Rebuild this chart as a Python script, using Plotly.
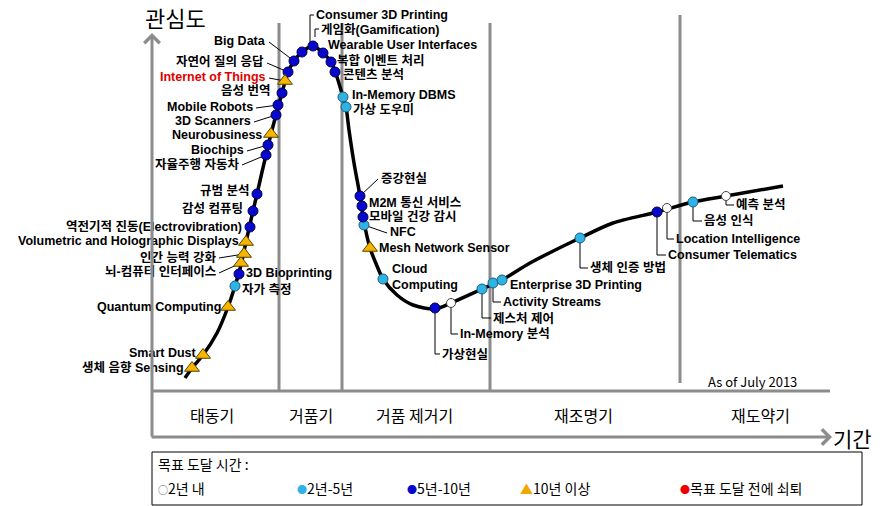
import plotly.graph_objects as go

# ---------------- data (time = x, visibility = y) ----------------
tech_names = [
    "생체 음향 Sensing", "Smart Dust", "Quantum Computing", "자가 측정", "3D Bioprinting",
    "뇌-컴퓨터 인터페이스", "인간 능력 강화", "Volumetric and Holographic Displays",
    "역전기적 진동(Electrovibration)", "감성 컴퓨팅", "규범 분석", "자율주행 자동차", "Biochips",
    "Neurobusiness", "3D Scanners", "Mobile Robots", "음성 번역", "Internet of Things",
    "자연어 질의 응답", "Big Data", "Consumer 3D Printing", "게임화(Gamification)",
    "Wearable User Interfaces", "복합 이벤트 처리", "콘텐츠 분석", "In-Memory DBMS", "가상 도우미",
    "증강현실", "M2M 통신 서비스", "모바일 건강 감시", "NFC", "Mesh Network Sensor",
    "Cloud Computing", "가상현실", "In-Memory 분석", "제스처 제어", "Activity Streams",
    "Enterprise 3D Printing", "생체 인증 방법", "Consumer Telematics", "Location Intelligence",
    "음성 인식", "예측 분석",
]
tech_time = [40, 51, 76, 83, 87, 89, 92, 94, 98, 101, 105, 114, 116, 119, 124, 126, 130, 133,
             136, 142, 150, 161, 171, 179, 183, 191, 194, 208, 210, 211, 212, 218, 231, 283,
             299, 330, 341, 350, 428, 505, 515, 541, 574]
tech_visibility = [69, 82, 130, 151, 163, 174, 183, 195, 210, 226, 243, 282, 292, 303, 322, 332,
                   344, 356, 365, 376, 385, 391, 384, 375, 365, 340, 330, 241, 231, 220, 212, 189,
                   158, 129, 134, 148, 154, 157, 199, 225, 229, 235, 241]
# plateau category: 0 = <2y, 1 = 2-5y, 2 = 5-10y, 3 = >10y
tech_plateau = [3, 3, 3, 1, 2, 3, 3, 3, 2, 2, 2, 2, 2, 3, 2, 2, 2, 3, 2, 2, 2, 2, 2, 2, 2, 1, 1,
                2, 2, 2, 1, 3, 1, 2, 0, 1, 1, 1, 1, 2, 0, 1, 0]

curve_time = [33, 40, 51, 65, 76, 83, 89, 94, 101, 105, 110, 114, 119, 124, 130, 136, 142, 150,
              161, 171, 179, 184, 191, 194, 197, 202, 208, 212, 218, 225, 231, 245, 261, 283,
              299, 330, 350, 378, 428, 461, 505, 541, 574, 631]
curve_visibility = [59, 69, 82, 104, 130, 151, 172, 195, 226, 243, 265, 282, 303, 322, 344, 365,
                    376, 385, 391, 384, 375, 363, 340, 330, 307, 274, 241, 215, 189, 171, 158, 142,
                    132, 128, 134, 148, 157, 174, 199, 214, 225, 235, 241, 251]

phase_names = ["태동기", "거품기", "거품 제거기", "재조명기", "재도약기"]
legend_title = "목표 도달 시간 :"
plateau_labels = ["2년 내", "2년-5년", "5년-10년", "10년 이상", "목표 도달 전에 쇠퇴"]

# ---------------- layout helpers (pixel -> data) ----------------
OX, OY = 152, 437
def X(px): return px - OX
def Y(py): return OY - py

FONT = "Noto Sans CJK KR"
LABEL_FONT = "Liberation Sans, Noto Sans CJK KR"
TXT = 12.5

# label placement: side, label x (px), label y (px), leader type
label_layout = {
    "생체 음향 Sensing": ("L", 185, 367, None),
    "Smart Dust": ("L", 198, 353, None),
    "Quantum Computing": ("L", 222, 307, None),
    "자가 측정": ("R", 241, 289, None),
    "3D Bioprinting": ("R", 245, 273, None),
    "뇌-컴퓨터 인터페이스": ("L", 217, 272, "diag"),
    "인간 능력 강화": ("L", 217, 257, "diag"),
    "Volumetric and Holographic Displays": ("L", 240, 241, None),
    "역전기적 진동(Electrovibration)": ("L", 243, 226, None),
    "감성 컴퓨팅": ("L", 244, 209, None),
    "규범 분석": ("L", 250, 191, None),
    "자율주행 자동차": ("L", 240, 164, "diag"),
    "Biochips": ("L", 245, 150, "diag"),
    "Neurobusiness": ("L", 263, 135, None),
    "3D Scanners": ("L", 252, 121, "diag"),
    "Mobile Robots": ("L", 254, 107, "diag"),
    "음성 번역": ("L", 271, 91, None),
    "Internet of Things": ("L", 267, 77, "diag"),
    "자연어 질의 응답": ("L", 265, 62, "diag"),
    "Big Data": ("L", 267, 41, "diag"),
    "Consumer 3D Printing": ("R", 315, 15, ("bracket", 310, 44)),
    "게임화(Gamification)": ("R", 320, 29, ("bracket", 315, 37)),
    "Wearable User Interfaces": ("R", 327, 45, None),
    "복합 이벤트 처리": ("R", 336, 60, None),
    "콘텐츠 분석": ("R", 342, 75, None),
    "In-Memory DBMS": ("R", 351, 95, None),
    "가상 도우미": ("R", 352, 109, None),
    "증강현실": ("R", 380, 178, "diag"),
    "M2M 통신 서비스": ("R", 368, 203, None),
    "모바일 건강 감시": ("R", 368, 217, None),
    "NFC": ("R", 389, 232, "diag"),
    "Mesh Network Sensor": ("R", 378, 248, None),
    "Cloud Computing": ("R", 391, 277, None),
    "가상현실": ("R", 441, 354, "elbow"),
    "In-Memory 분석": ("R", 459, 334, "elbow"),
    "제스처 제어": ("R", 492, 318, "elbow"),
    "Activity Streams": ("R", 502, 302, "elbow"),
    "Enterprise 3D Printing": ("R", 509, 285, None),
    "생체 인증 방법": ("R", 589, 268, "elbow"),
    "Consumer Telematics": ("R", 667, 255, "elbow"),
    "Location Intelligence": ("R", 675, 239, "elbow"),
    "음성 인식": ("R", 703, 221, "elbow"),
    "예측 분석": ("R", 735, 205, "elbow"),
}

fig = go.Figure()

# hype curve
fig.add_trace(go.Scatter(x=curve_time, y=curve_visibility, mode="lines",
                         line=dict(color="black", width=3.5, shape="spline", smoothing=0.8),
                         hoverinfo="skip", showlegend=False))

# leader lines
lx_all, ly_all = [], []
for name, t, v in zip(tech_names, tech_time, tech_visibility):
    side, lx, ly, leader = label_layout[name]
    if leader is None:
        continue
    if leader == "diag":
        sx = lx + 2 if side == "L" else lx - 2
        lx_all += [X(sx), t, None]
        ly_all += [Y(ly + 1), v, None]
    elif leader == "elbow":
        lx_all += [t, t, X(lx - 1), None]
        ly_all += [v, Y(ly), Y(ly), None]
    else:
        _, bx, by = leader
        lx_all += [X(lx - 1), X(bx), X(bx), None]
        ly_all += [Y(ly), Y(ly), Y(by), None]
fig.add_trace(go.Scatter(x=lx_all, y=ly_all, mode="lines", line=dict(color="black", width=1),
                         hoverinfo="skip", showlegend=False))

# markers per plateau category
styles = [
    dict(symbol="circle", size=9, color="white", line=dict(color="#444444", width=1)),
    dict(symbol="circle", size=10, color="#2fb2e4", line=dict(color="#1b5f80", width=1)),
    dict(symbol="circle", size=10, color="#0808cc", line=dict(color="#000050", width=1)),
    dict(symbol="triangle-up", size=13, color="#f7b500", line=dict(color="#5a4300", width=1)),
]
for cat in range(4):
    xs = [t for t, c in zip(tech_time, tech_plateau) if c == cat]
    ys = [v for v, c in zip(tech_visibility, tech_plateau) if c == cat]
    ns = [n for n, c in zip(tech_names, tech_plateau) if c == cat]
    fig.add_trace(go.Scatter(x=xs, y=ys, mode="markers", marker=styles[cat], text=ns,
                             hoverinfo="text", name=plateau_labels[cat], showlegend=False))

annotations = []
for name in tech_names:
    side, lx, ly, leader = label_layout[name]
    txt = "Cloud<br>Computing" if name == "Cloud Computing" else name
    color = "#e00000" if name == "Internet of Things" else "black"
    annotations.append(dict(x=X(lx), y=Y(ly), text="<b>" + txt + "</b>", showarrow=False,
                            xanchor="right" if side == "L" else "left", yanchor="middle",
                            align="left", borderpad=0,
                            font=dict(family=LABEL_FONT, size=TXT, color=color)))

# axis titles
annotations.append(dict(x=X(175), y=Y(17), text="관심도", showarrow=False,
                        font=dict(family=FONT, size=22, color="black")))
annotations.append(dict(x=X(852), y=Y(438), text="기간", showarrow=False,
                        font=dict(family=FONT, size=21, color="black")))
# axis arrows
GRAY = "#8c8c8c"
annotations.append(dict(x=X(152), y=Y(33), ax=X(152), ay=Y(438), xref="x", yref="y",
                        axref="x", ayref="y", showarrow=True, arrowhead=4, arrowsize=1,
                        arrowwidth=3, arrowcolor=GRAY, text=""))
annotations.append(dict(x=X(832), y=Y(437), ax=X(150), ay=Y(437), xref="x", yref="y",
                        axref="x", ayref="y", showarrow=True, arrowhead=4, arrowsize=1,
                        arrowwidth=3, arrowcolor=GRAY, text=""))

# phase labels
for name, px in zip(phase_names, [212, 311, 414, 583, 760]):
    annotations.append(dict(x=X(px), y=Y(415), text=name, showarrow=False,
                            font=dict(family=FONT, size=16, color="black")))
annotations.append(dict(x=X(752), y=Y(381), text="As of July 2013", showarrow=False,
                        font=dict(family=FONT, size=13, color="black")))

# legend box content
annotations.append(dict(x=X(156), y=Y(464), text=legend_title, showarrow=False,
                        xanchor="left", font=dict(family=FONT, size=14, color="black")))
glyphs = ['<span style="color:#555555;font-size:10px">○</span>',
          '<span style="color:#2fb2e4;font-size:10px">●</span>',
          '<span style="color:#0808cc;font-size:10px">●</span>',
          '<span style="color:#f0a800;font-size:13px">▲</span>',
          '<span style="color:#ee0000;font-size:10px">●</span>']
for g, lab, px in zip(glyphs, plateau_labels, [156, 295, 405, 518, 678]):
    annotations.append(dict(x=X(px), y=Y(488), text=g + lab, showarrow=False,
                            xanchor="left", font=dict(family=FONT, size=14, color="black")))

shapes = []
for px, top, bot in [(279, 23, 391), (342, 23, 391), (490, 23, 391), (680, 15, 383)]:
    shapes.append(dict(type="line", x0=X(px), x1=X(px), y0=Y(top), y1=Y(bot),
                       line=dict(color=GRAY, width=3), layer="below"))
shapes.append(dict(type="line", x0=X(152), x1=X(830), y0=Y(391), y1=Y(391),
                   line=dict(color=GRAY, width=3), layer="below"))
shapes.append(dict(type="rect", x0=X(152), x1=X(862), y0=Y(452), y1=Y(505),
                   line=dict(color="black", width=1), layer="below"))

fig.update_layout(
    width=884, height=506, margin=dict(l=0, r=0, t=0, b=0),
    paper_bgcolor="white", plot_bgcolor="white",
    xaxis=dict(range=[X(0), X(884)], visible=False, fixedrange=True),
    yaxis=dict(range=[Y(506), Y(0)], visible=False, fixedrange=True),
    annotations=annotations, shapes=shapes, showlegend=False,
)
fig.write_html("out.html")
